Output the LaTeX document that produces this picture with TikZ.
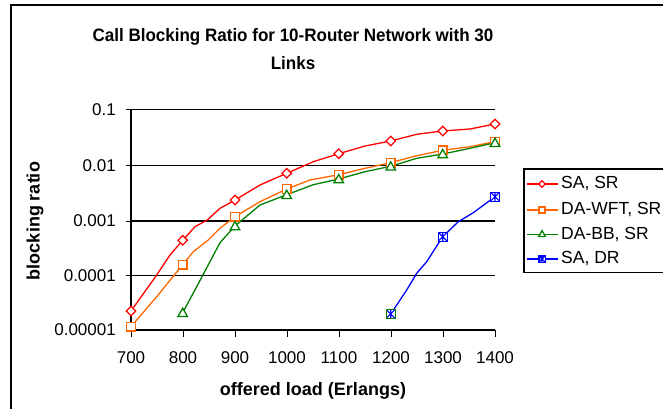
\documentclass[tikz,border=0pt]{standalone}
\usepackage{fontspec}
\setmainfont{Liberation Sans}
\usetikzlibrary{shapes.geometric}

\definecolor{sred}{RGB}{255,0,0}
\definecolor{sorange}{RGB}{255,102,0}
\definecolor{sgreen}{RGB}{0,128,0}
\definecolor{sblue}{RGB}{0,0,255}

\tikzset{
  series/.style={line width=1.3pt, line join=round},
  gridline/.style={line width=0.8pt},
  axisline/.style={line width=2pt},
  ticklab/.style={font=\fontsize{17}{19}\selectfont, inner sep=0pt},
  axtitle/.style={font=\bfseries\fontsize{18}{20}\selectfont, inner sep=0pt},
  charttitle/.style={font=\bfseries\fontsize{18}{20}\selectfont, inner sep=0pt, xscale=0.945},
  mkbase/.style={fill=white, line width=1.3pt, inner sep=0pt},
  mkdiamond/.style={mkbase, draw=sred, diamond, minimum size=10pt},
  mksquare/.style={mkbase, draw=sorange, rectangle, minimum size=8.5pt},
  mktri/.style={mkbase, draw=sgreen, regular polygon, regular polygon sides=3, minimum size=11pt},
  mkstar/.style={mkbase, draw=sblue, rectangle, minimum size=9pt,
    path picture={
      \draw[sblue, line width=1.1pt]
        (path picture bounding box.north west) -- (path picture bounding box.south east)
        (path picture bounding box.south west) -- (path picture bounding box.north east)
        (path picture bounding box.north) -- (path picture bounding box.south);
    }},
  legtext/.style={font=\fontsize{17.5}{19}\selectfont, anchor=west, inner sep=0pt},
}

\begin{document}
\begin{tikzpicture}[x=1pt, y=-1pt]
  % canvas
  \useasboundingbox (0,0) rectangle (663,409);
  \fill[white] (0,0) rectangle (663,409);

  % chart frame (extends past the page on the right and bottom)
  \draw[line width=2pt] (11,420) -- (11,5) -- (680,5);

  % title, two lines
  \node[charttitle] (title1) at (293,37)
    {Call Blocking Ratio for 10-Router Network with 30};
  \node[charttitle] (title2) at (293,63) {Links};

  % horizontal grid lines at each decade
  \draw[gridline] (131,109.3) -- (495,109.3);
  \draw[gridline] (131,165.3) -- (495,165.3);
  \draw[line width=2pt] (131,221) -- (495,221);
  \draw[gridline] (131,275.5) -- (495,275.5);

  % axes
  \draw[axisline] (131,109.3) -- (131,330) -- (495,330);

  % y ticks and labels
  \foreach \y/\t in {109.3/0.1, 165.3/0.01, 221/0.001, 275.5/0.0001, 330/0.00001}{
    \draw[line width=1pt] (125.5,\y) -- (131,\y);
    \node[ticklab, anchor=east] at (116,\y) {\t};
  }

  % x ticks and labels
  \foreach \i/\t in {0/700,1/800,2/900,3/1000,4/1100,5/1200,6/1300,7/1400}{
    \draw[line width=1pt] ({131+52*\i},330) -- ({131+52*\i},337);
    \node[ticklab] at ({131+52*\i},358) {\t};
  }

  % axis titles
  \node[axtitle] (xtitle) at (313,391) {offered load (Erlangs)};
  \node[axtitle, rotate=90] (ytitle) at (35,221) {blocking ratio};

  % SA, SR
  \draw[series, sred] plot coordinates {
    (131,311) (156.7,275) (170,255) (182.7,240.3) (195,226.7) (207.3,220)
    (220,208.3) (235,200) (260,185) (286.7,173.3) (313.3,161.7) (338.7,153.7)
    (365,146) (390.7,141) (416.7,134.3) (442.7,131) (470,129) (495,124)};
  % DA-WFT, SR
  \draw[series, sorange] plot coordinates {
    (131,326.7) (156.7,296.7) (182.7,264.7) (193.3,251.7) (208.3,240) (220,228.3)
    (235,216.7) (260,201.7) (286.7,189) (310,180) (338.7,174.7) (365,168.3)
    (390.7,162.7) (416.7,155.7) (442.7,150.3) (470,146.7) (495,141.7)};
  % DA-BB, SR
  \draw[series, sgreen] plot coordinates {
    (182.7,312.7) (196.7,286.7) (220,242.7) (235,226) (260,205) (286.7,194.7)
    (313.3,184.7) (338.7,179) (365,171.7) (390.7,166.3) (416.7,158.3)
    (442.7,154) (470,148.3) (495,142.7)};
  % SA, DR
  \draw[series, sblue] plot coordinates {
    (390.7,314) (406.7,290) (416.7,273.3) (426.7,261.7) (442.7,236.7)
    (458.3,221.7) (473.3,212.7) (495,196.7)};

  % markers
  \foreach \x/\y [count=\k] in {131/311, 182.7/240.3, 235/200, 286.7/173.3,
      338.7/153.7, 390.7/141, 442.7/131, 495/124}
    \node[mkdiamond] (r\k) at (\x,\y) {};
  \foreach \x/\y [count=\k] in {131/326.7, 182.7/264.7, 235/216.7, 286.7/189,
      338.7/174.7, 390.7/162.7, 442.7/150.3, 495/141.7}
    \node[mksquare] (o\k) at (\x,\y) {};
  \foreach \x/\y [count=\k] in {182.7/312.7, 235/226, 286.7/194.7,
      338.7/179, 390.7/166.3, 442.7/154, 495/142.7}
    \node[mktri, yshift=-1pt] (g\k) at (\x,\y) {};
  \node[mkstar, draw=sgreen] (b1) at (390.7,314) {};
  \node[mkstar] (b2) at (442.7,236.7) {};
  \node[mkstar] (b3) at (495,196.7) {};

  % legend
  \draw[line width=1.5pt] (680,169) -- (524,169) -- (524,272.5) -- (680,272.5);
  \foreach \y/\c/\m/\t [count=\k] in {184/sred/mkdiamond/{SA, SR},
      210/sorange/mksquare/{DA-WFT, SR},
      234.5/sgreen/mktri/{DA-BB, SR},
      259/sblue/mkstar/{SA, DR}}{
    \draw[series, \c] (527,\y) -- (558,\y);
    \node[\m, scale=0.7] (lm\k) at (542,\y) {};
    \node[legtext] (lt\k) at (561,\y) {\t};
  }
\end{tikzpicture}
\end{document}
